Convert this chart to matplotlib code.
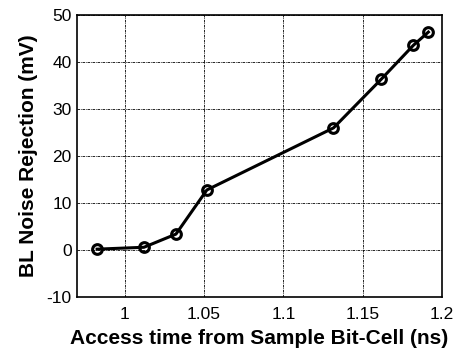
import matplotlib
matplotlib.use('Agg')
import matplotlib.pyplot as plt

# access time (ns) vs bit-line noise rejection (mV)
access_time = [0.9826, 1.0121, 1.0323, 1.0518, 1.1316, 1.1618, 1.1820, 1.1914]
noise_rej = [0.2, 0.6, 3.4, 12.8, 26.0, 36.4, 43.6, 46.4]
x_ticks = [1, 1.05, 1.1, 1.15, 1.2]
y_ticks = [-10, 0, 10, 20, 30, 40, 50]

plt.rcParams['font.family'] = ['Liberation Sans', 'DejaVu Sans']
plt.rcParams['axes.unicode_minus'] = False

fig = plt.figure(figsize=(4.59, 3.52), dpi=100)
ax = fig.add_axes([0.168, 0.156, 0.795, 0.801])

ax.plot(access_time, noise_rej, color='black', lw=2.2, marker='o', ms=7,
        mfc='none', mec='black', mew=2.2)

ax.set_xlim(0.97, 1.2)
ax.set_ylim(-10, 50)
ax.set_xticks(x_ticks)
ax.set_xticklabels([f'{t:g}' for t in x_ticks])
ax.set_yticks(y_ticks)
ax.tick_params(labelsize=12.5, length=0)
ax.tick_params(axis='y', pad=4)
ax.tick_params(axis='x', pad=7)
ax.grid(True, color='black', ls=(0, (3, 1, 1, 1)), lw=0.6)
for s in ax.spines.values():
    s.set_linewidth(1.2)

ax.set_xlabel('Access time from Sample Bit-Cell (ns)', fontsize=15, fontweight='bold', labelpad=5)
ax.set_ylabel('BL Noise Rejection (mV)', fontsize=15, fontweight='bold', labelpad=6)

fig.savefig('out.png', dpi=100)
